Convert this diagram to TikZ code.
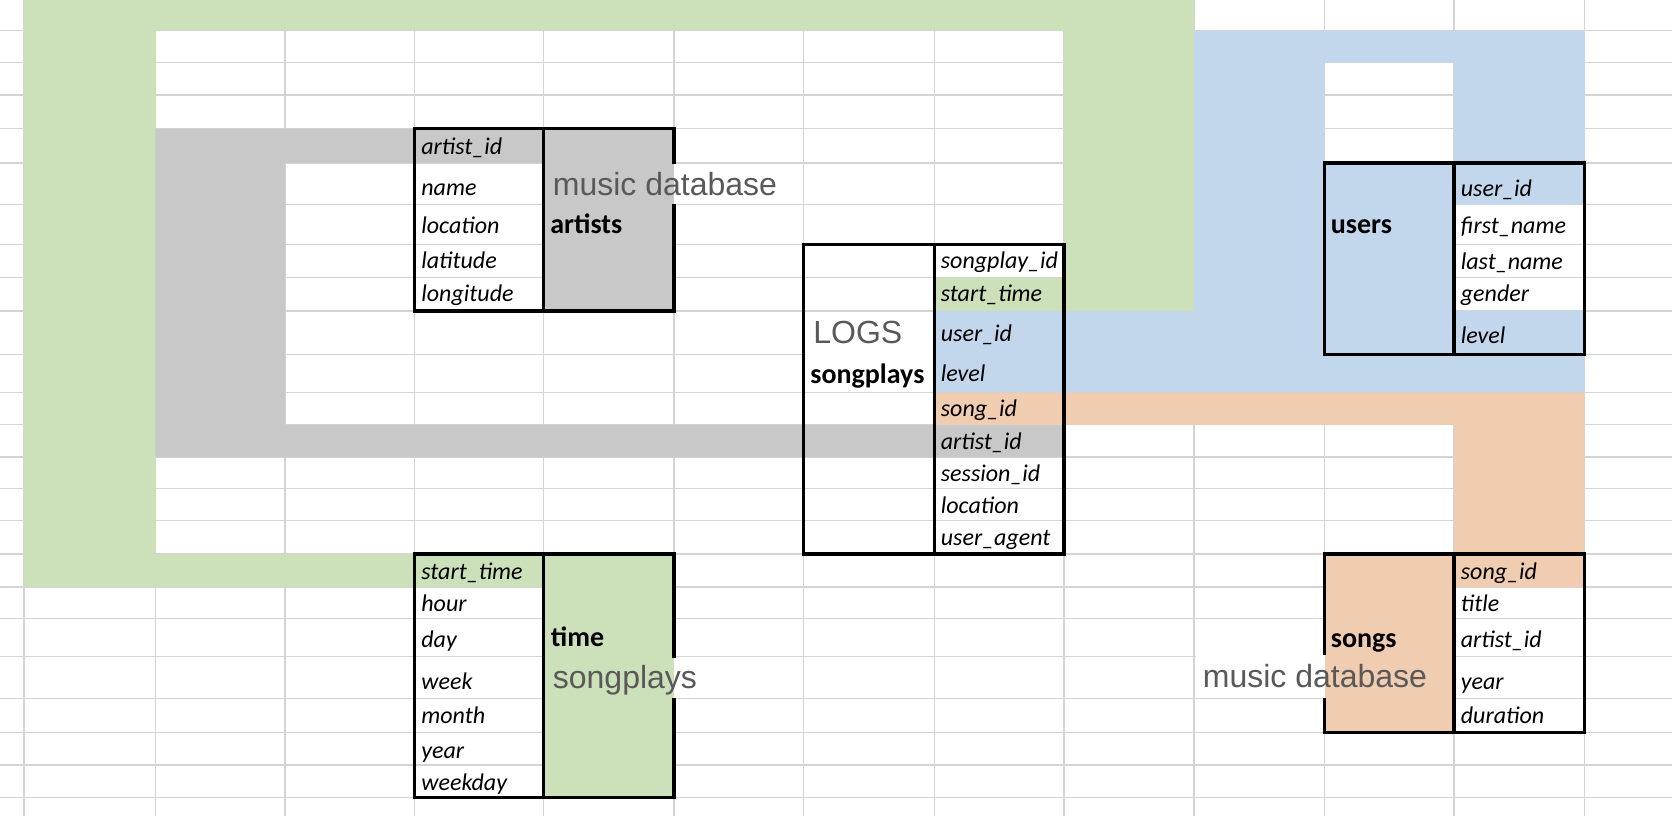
\documentclass[tikz,border=0pt]{standalone}
\usepackage{fontspec}
\setmainfont{Carlito}
\newfontfamily\arialfont{Liberation Sans}
\definecolor{cellgreen}{HTML}{CCE0B9}
\definecolor{cellgray}{HTML}{C8C8C8}
\definecolor{cellblue}{HTML}{C2D6EC}
\definecolor{cellpeach}{HTML}{F0CCB0}
\definecolor{gridgray}{HTML}{D4D4D4}
\definecolor{labelgray}{HTML}{595959}

\begin{document}
\begin{tikzpicture}[x=0.5pt, y=-0.5pt,
  gridline/.style={gridgray, line width=0.65pt},
  tbl/.style={black, line width=1.6pt},
  fld/.style={anchor=base west, inner sep=0pt, font=\fontsize{12}{14}\selectfont\itshape},
  tname/.style={anchor=base west, inner sep=0pt, font=\fontsize{14}{16}\selectfont\bfseries},
  boxlabel/.style={anchor=base west, inner sep=0pt, text=labelgray, font=\fontsize{16}{18}\selectfont\arialfont}]
\useasboundingbox (0,0) rectangle (1672,816);
\fill[white] (0,0) rectangle (1672,816);

% sheet grid
\foreach \x in {24,155.5,285,414.5,543.5,674,803.5,934.5,1064,1194,1324.5,1454,1584.5}
  \draw[gridline] (\x,0) -- (\x,816);
\foreach \y in {30.5,62.5,95,128.5,163,204.5,244.5,277.5,311,354.5,392.5,424.5,457,488.5,520.5,554,587,618.5,656.5,698.5,732.5,765,797.5}
  \draw[gridline] (0,\y) -- (1672,\y);

% start_time link
\fill[cellgreen] (24,0) -- (1194,0) -- (1194,311) -- (934.5,311) -- (934.5,277.5) -- (1064,277.5)
  -- (1064,30.5) -- (155.5,30.5) -- (155.5,554) -- (543.5,554) -- (543.5,587) -- (24,587) -- cycle;
\fill[cellgreen] (543.5,554) rectangle (674,797.5);
% artist_id link
\fill[cellgray] (155.5,128.5) -- (543.5,128.5) -- (543.5,163) -- (285,163) -- (285,424.5)
  -- (1064,424.5) -- (1064,457) -- (155.5,457) -- cycle;
\fill[cellgray] (543.5,128.5) rectangle (674,311);
% user_id, level link
\fill[cellblue, even odd rule] (1194,30.5) -- (1584.5,30.5) -- (1584.5,204.5) -- (1454,204.5) -- (1454,311)
  -- (1584.5,311) -- (1584.5,392.5) -- (934.5,392.5) -- (934.5,311) -- (1194,311) -- cycle
  (1324.5,62.5) rectangle (1454,163);
% song_id link
\fill[cellpeach] (934.5,392.5) -- (1584.5,392.5) -- (1584.5,587) -- (1454,587) -- (1454,732.5)
  -- (1324.5,732.5) -- (1324.5,554) -- (1454,554) -- (1454,424.5) -- (934.5,424.5) -- cycle;

% tables
\draw[tbl] (414.5,128.5) rectangle (674,311) (543.5,128.5) -- (543.5,311);
\draw[tbl] (803.5,244.5) rectangle (1064,554) (934.5,244.5) -- (934.5,554);
\draw[tbl] (1324.5,163) rectangle (1584.5,354.5) (1454,163) -- (1454,354.5);
\draw[tbl] (414.5,554) rectangle (674,797.5) (543.5,554) -- (543.5,797.5);
\draw[tbl] (1324.5,554) rectangle (1584.5,732.5) (1454,554) -- (1454,732.5);

% text boxes lying over the borders
\fill[cellgray] (672,164) rectangle (674,203.5);
\fill[white] (674,164) rectangle (676.5,203.5);
\fill[cellgreen] (672,658) rectangle (674,698);
\fill[white] (674,658) rectangle (676.5,698);
\fill[white] (1196,655) rectangle (1324.5,697.5);
\fill[cellpeach] (1324.5,655) rectangle (1327,697.5);
\fill[white] (805.5,316) rectangle (932.5,360);

% fields
\foreach \t/\y [count=\i] in {artist\_id/154, name/195, location/233, latitude/268.5, longitude/301}
  \node[fld] (art\i) at (421,\y) {\t};
\foreach \t/\y [count=\i] in {songplay\_id/268.5, start\_time/301.5, user\_id/341.5, level/381.5, song\_id/416,
    artist\_id/449, session\_id/481, location/513, user\_agent/545}
  \node[fld] (sp\i) at (940.5,\y) {\t};
\foreach \t/\y [count=\i] in {user\_id/196.5, first\_name/233, last\_name/269, gender/301, level/343}
  \node[fld] (usr\i) at (1460.5,\y) {\t};
\foreach \t/\y [count=\i] in {start\_time/579.5, hour/611.5, day/647.5, week/689.5, month/723, year/758, weekday/790}
  \node[fld] (tm\i) at (421,\y) {\t};
\foreach \t/\y [count=\i] in {song\_id/579.5, title/611.5, artist\_id/647.5, year/689.5, duration/723}
  \node[fld] (sng\i) at (1460.5,\y) {\t};

% table names
\node[tname] (artists) at (550,233.3) {artists};
\node[tname] (songplays) at (810,383) {songplays};
\node[tname] (users) at (1330.5,233.3) {users};
\node[tname] (time) at (550.5,646.5) {time};
\node[tname] (songs) at (1330.5,647) {songs};

% sources
\node[boxlabel] (artsrc) at (552.5,195) {music database};
\node[boxlabel] (logs) at (813,343.3) {LOGS};
\node[boxlabel] (tmsrc) at (552.5,688.5) {songplays};
\node[boxlabel] (sngsrc) at (1202.5,687) {music database};
\end{tikzpicture}
\end{document}
